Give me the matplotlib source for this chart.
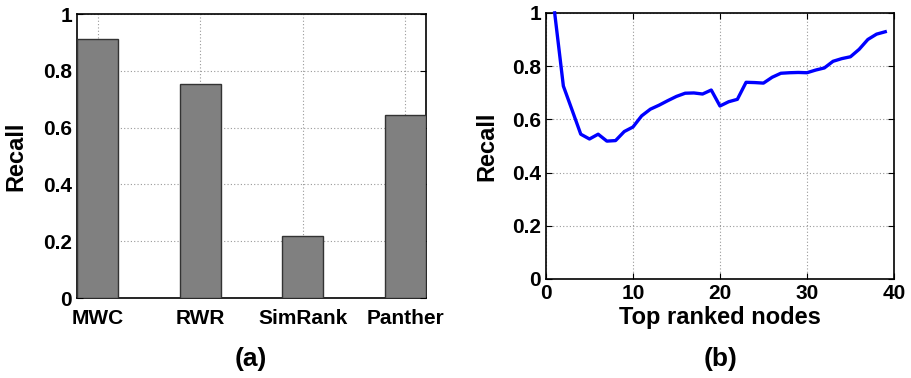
import matplotlib.pyplot as plt
import numpy as np

plt.rcParams['font.family'] = ['Liberation Sans', 'DejaVu Sans']
plt.rcParams['font.weight'] = 'bold'

# (a) recall of each method
methods = ['MWC', 'RWR', 'SimRank', 'Panther']
method_recall = [0.914, 0.753, 0.219, 0.643]

# (b) recall against the number of top ranked nodes
top_nodes = list(range(1, 40))
node_recall = [1.0, 0.725, 0.635, 0.544, 0.526, 0.544, 0.518, 0.520, 0.554, 0.571,
               0.613, 0.638, 0.653, 0.670, 0.686, 0.698, 0.699, 0.695, 0.710, 0.650,
               0.666, 0.675, 0.739, 0.738, 0.736, 0.758, 0.773, 0.775, 0.776, 0.775,
               0.785, 0.793, 0.818, 0.828, 0.835, 0.863, 0.900, 0.920, 0.929]

recall_ticks = [0, 0.2, 0.4, 0.6, 0.8, 1]
recall_labels = ['0', '0.2', '0.4', '0.6', '0.8', '1']


def matlab_style(ax):
    ax.tick_params(direction='in', top=True, right=True, length=4, width=0.8,
                   labelsize=15)
    ax.grid(True, color='#999999', linestyle=(0, (1, 2)), linewidth=0.8)
    ax.set_axisbelow(True)
    for sp in ax.spines.values():
        sp.set_linewidth(1.2)


fig = plt.figure(figsize=(9.11, 3.78), dpi=100)

ax1 = fig.add_axes([0.0845, 0.2116, 0.383, 0.751])
pos = np.arange(1, len(methods) + 1)
ax1.bar(pos, method_recall, width=0.4, color='#808080', edgecolor='#333333',
        linewidth=1.0, zorder=3)
ax1.set_xlim(0.8, 4.2)
ax1.set_ylim(0, 1)
ax1.set_xticks(pos)
ax1.set_xticklabels(methods)
ax1.set_yticks(recall_ticks)
ax1.set_yticklabels(recall_labels)
matlab_style(ax1)
ax1.tick_params(axis='x', pad=8, length=0)
ax1.set_ylabel('Recall', fontsize=17, fontweight='bold', labelpad=11)

ax2 = fig.add_axes([0.5993, 0.262, 0.382, 0.704])
ax2.plot(top_nodes, node_recall, color='#0000ff', linewidth=2.4, zorder=3,
         clip_on=False)
ax2.set_xlim(0, 40)
ax2.set_ylim(0, 1)
ax2.set_xticks([0, 10, 20, 30, 40])
ax2.set_yticks(recall_ticks)
ax2.set_yticklabels(recall_labels)
matlab_style(ax2)
ax2.set_xlabel('Top ranked nodes', fontsize=17, fontweight='bold', labelpad=2)
ax2.set_ylabel('Recall', fontsize=17, fontweight='bold', labelpad=10)

fig.text(0.2755, 0.05, '(a)', ha='center', va='center', fontsize=19, fontweight='bold')
fig.text(0.7905, 0.05, '(b)', ha='center', va='center', fontsize=19, fontweight='bold')

fig.savefig('out.png', dpi=100)
